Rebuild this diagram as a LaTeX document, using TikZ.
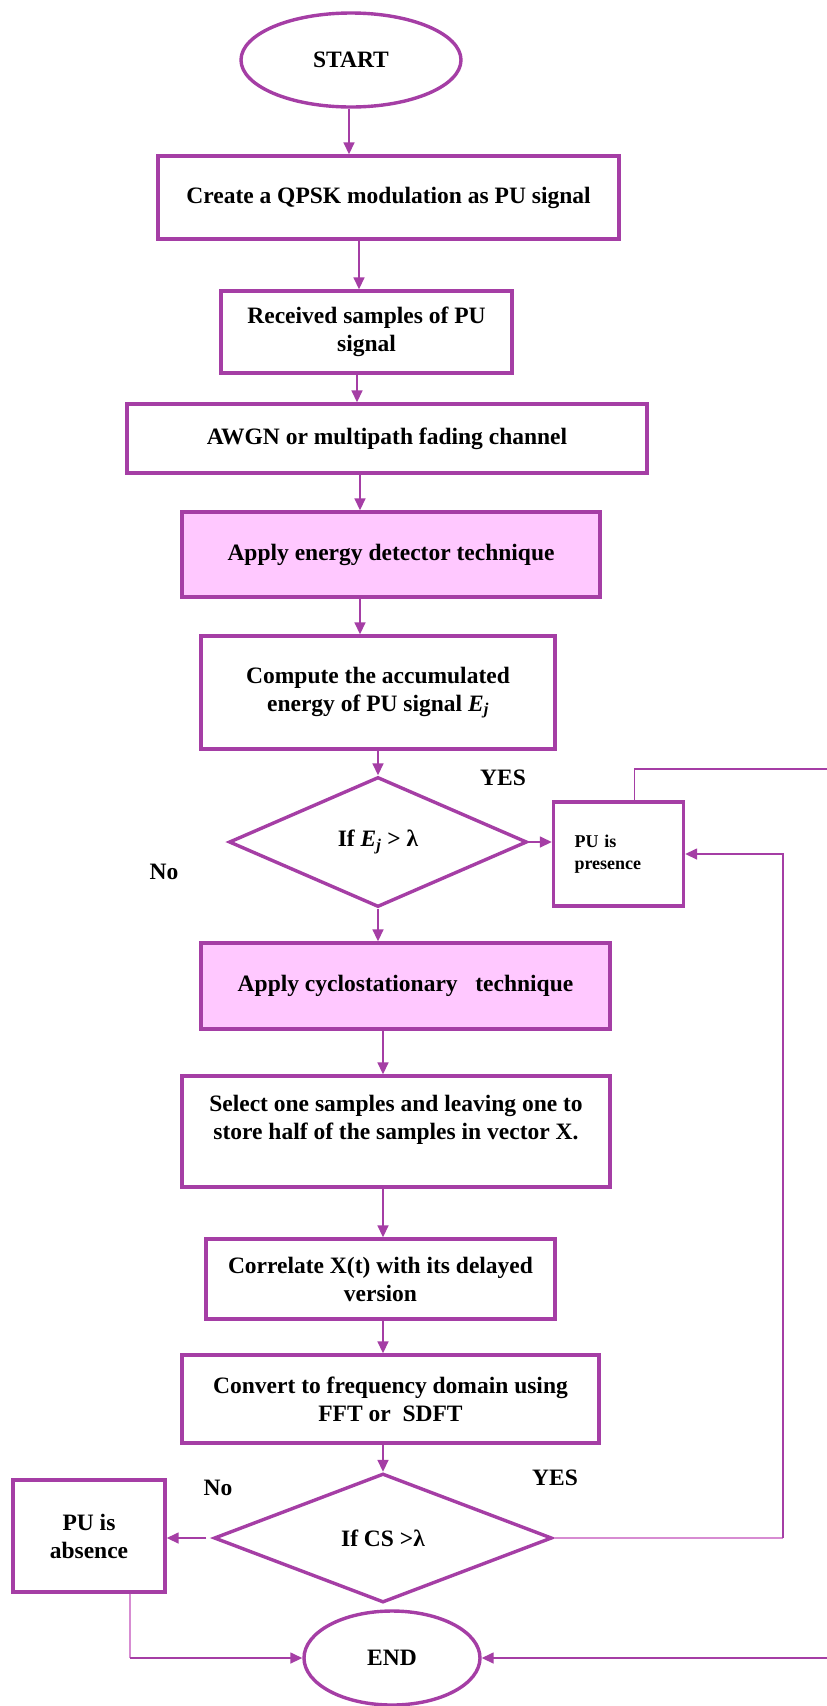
\documentclass[tikz,border=0pt]{standalone}
\usepackage{fontspec}
\setmainfont{Liberation Serif}
\usetikzlibrary{shapes.geometric,arrows.meta,calc}
\definecolor{pur}{RGB}{165,62,165}
\definecolor{pinkfill}{RGB}{255,200,255}
\definecolor{lightpur}{RGB}{215,140,210}
\begin{document}
\begin{tikzpicture}[x=1pt,y=-1pt,
  txt/.style={font=\fontsize{23.5}{28}\selectfont\bfseries},
  box/.style={draw=pur,line width=3.4pt,rectangle,inner sep=0pt,align=center,txt},
  pinkbox/.style={box,fill=pinkfill},
  term/.style={draw=pur,line width=3.4pt,ellipse,inner sep=0pt,txt},
  decide/.style={draw=pur,line width=3.4pt,diamond,inner sep=0pt,txt},
  arr/.style={draw=pur,line width=1.6pt,-{Triangle[length=12pt,width=11pt]}},
  conn/.style={draw=pur,line width=1.6pt},
  lightconn/.style={draw=lightpur,line width=1.7pt},
  lbl/.style={txt}]
\useasboundingbox (0,0) rectangle (827,1706);
\fill[white] (0,0) rectangle (827,1706);

\node[term,minimum width=220,minimum height=94] (start) at (351,60) {START};
\node[box,minimum width=461,minimum height=83] (b1) at (388.5,197.5) {Create a QPSK modulation as PU signal};
\node[box,minimum width=291,minimum height=82] (b2) at (366.5,332) {Received samples of PU\\signal};
\node[box,minimum width=520,minimum height=69] (b3) at (387,438.5) {AWGN or multipath fading channel};
\node[pinkbox,minimum width=418,minimum height=85] (b4) at (391,554.5) {Apply energy detector technique};
\node[box,minimum width=354,minimum height=113] (b5) at (378,692.5) {Compute the accumulated\\energy of PU signal \textit{E}\textsubscript{\textit{j}}};
\node[decide,minimum width=298,minimum height=130] (d1) at (378,842) {If \textit{E}\textsubscript{\textit{j}} > λ};
\node[draw=pur,line width=3.4pt,rectangle,inner ysep=0pt,inner xsep=21pt,text width=88pt,align=left,minimum height=104,
      font=\fontsize{18}{22}\selectfont\bfseries] (pres) at (618.5,854) {PU is\\presence};
\node[pinkbox,minimum width=409,minimum height=86] (b6) at (405.5,986) {Apply cyclostationary\ \ \ technique};
\node[box,minimum width=428,minimum height=111] (b7) at (396,1131.5) {Select one samples and leaving one to\\store half of the samples in vector X.\\\mbox{}};
\node[box,minimum width=349,minimum height=80] (b8) at (380.5,1279) {Correlate X(t) with its delayed\\version};
\node[box,minimum width=417,minimum height=88] (b9) at (390.5,1399) {Convert to frequency domain using\\FFT or\ \ SDFT};
\node[decide,minimum width=338,minimum height=129] (d2) at (383,1538) {If CS >λ};
\node[box,minimum width=152,minimum height=112] (abs) at (89,1536) {PU is\\absence};
\node[term,minimum width=176,minimum height=94] (end) at (392,1658) {END};

\node[lbl] (yes1) at (503,778) {YES};
\node[lbl] (no1) at (164,872) {No};
\node[lbl] (yes2) at (555,1478) {YES};
\node[lbl] (no2) at (218,1488) {No};

\coordinate (rt) at (840,769);
\coordinate (rv) at (783,0);

\draw[arr] ([xshift=-2pt]start.south) -- ([xshift=-2pt]start.south |- b1.north);
\draw[arr] ([xshift=-29.5pt]b1.south) -- ([xshift=-29.5pt]b1.south |- b2.north);
\draw[arr] ([xshift=-9.5pt]b2.south) -- ([xshift=-9.5pt]b2.south |- b3.north);
\draw[arr] ([xshift=-27pt]b3.south) -- ([xshift=-27pt]b3.south |- b4.north);
\draw[arr] ([xshift=-31pt]b4.south) -- ([xshift=-31pt]b4.south |- b5.north);
\draw[arr] (b5.south -| d1.north) -- (d1.north);
\draw[arr] (d1.south) -- (d1.south |- b6.north);
\draw[arr] ([xshift=-22.5pt]b6.south) -- ([xshift=-22.5pt]b6.south |- b7.north);
\draw[arr] ([xshift=-13pt]b7.south) -- ([xshift=-13pt]b7.south |- b8.north);
\draw[arr] ([xshift=2.5pt]b8.south) -- ([xshift=2.5pt]b8.south |- b9.north);
\draw[arr] (b9.south -| d2.north) -- (d2.north);

\draw[arr] (d1.east) -- (d1.east -| pres.west);
\draw[arr] ([xshift=16pt]pres.north) |- (rt) |- (end.east);
\draw[lightconn] (d2.east) -- (d2.east -| rv);
\draw[arr] (d2.east -| rv) |- (pres.east);
\draw[arr] ([xshift=-6pt]d2.west) -- (d2.west -| abs.east);
\draw[lightconn] ([xshift=41pt]abs.south) -- ([xshift=41pt]abs.south |- end.west);
\draw[arr] ([xshift=41pt]abs.south |- end.west) -- (end.west);
\end{tikzpicture}
\end{document}
